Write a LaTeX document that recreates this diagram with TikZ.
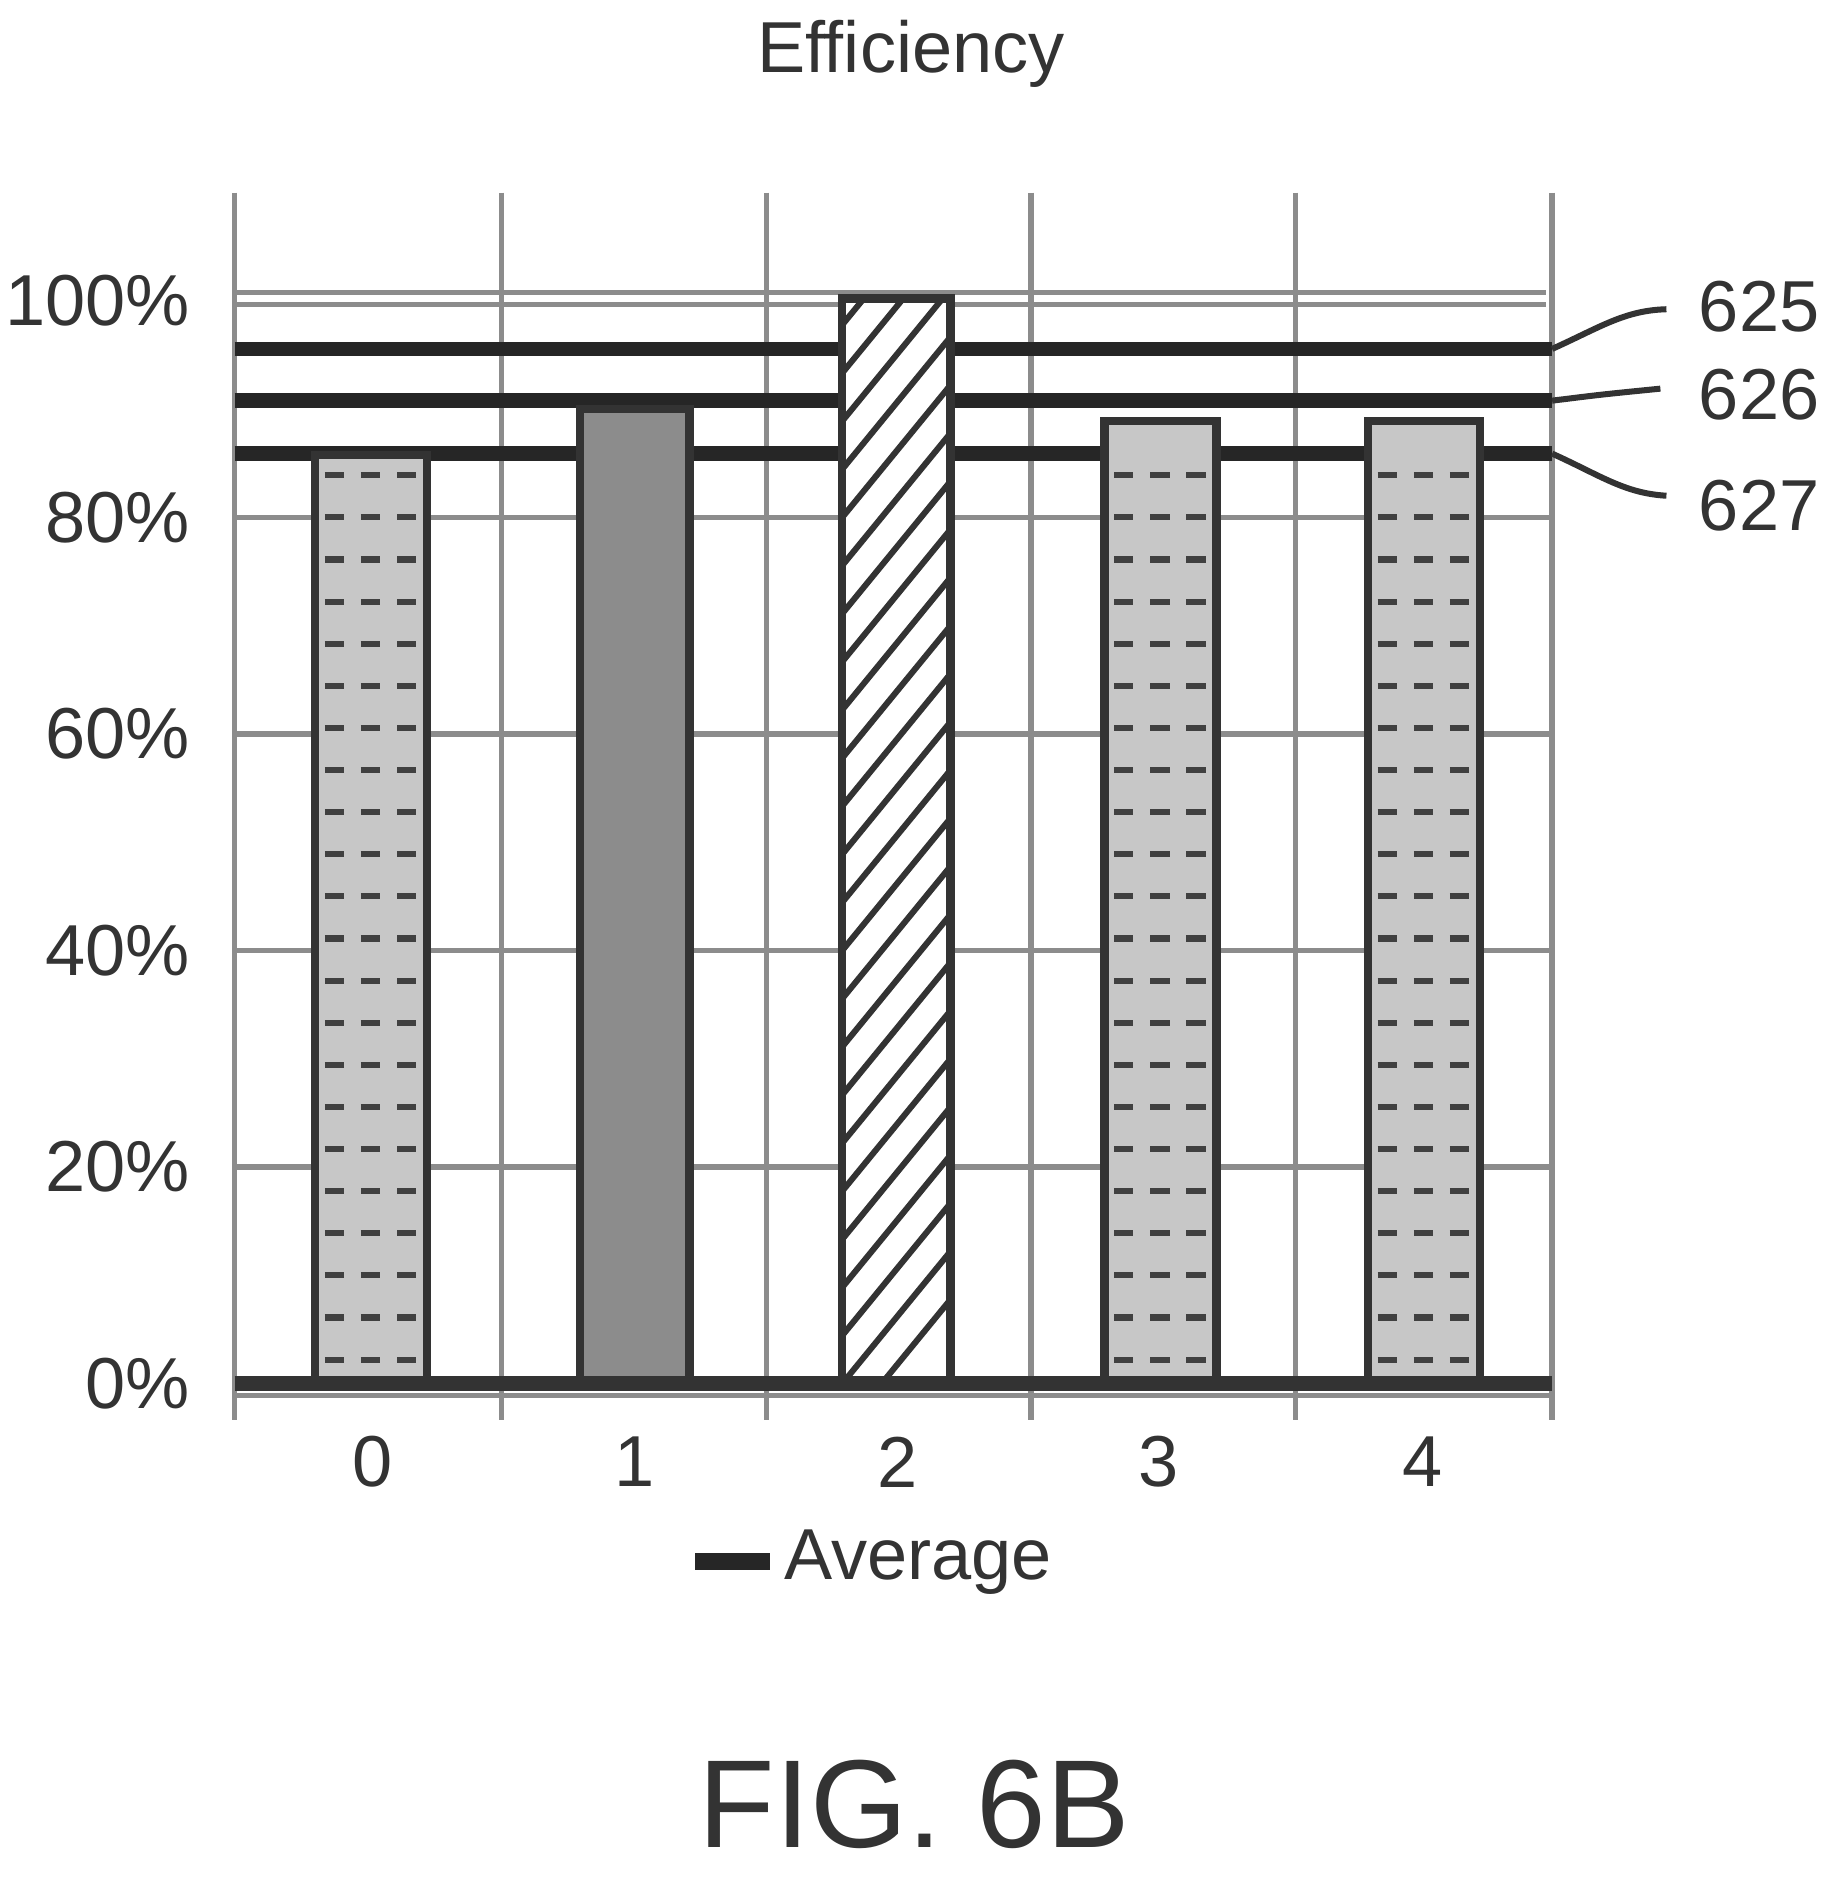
\documentclass[tikz,border=0pt]{standalone}
\usepackage{fontspec}
\setmainfont{Liberation Sans}
\usetikzlibrary{patterns}
\begin{document}
\begin{tikzpicture}[x=0.5pt,y=-0.5pt,
  grid/.style={draw=black!45,line width=2.2},
  avg/.style={draw=black!85,line width=6},
  barbox/.style={draw=black!80,line width=3.5},
  lbl/.style={font=\fontsize{30}{32}\selectfont,text=black!80},
  lead/.style={draw=black!80,line width=2.5}]
\useasboundingbox (0,0) rectangle (1525,1570);
% grid
\foreach \x in {195,417,637,857,1077,1290} \draw[grid] (\x,160) -- (\x,1180);
\foreach \y in {970,790,610,430} \draw[grid] (195,\y) -- (1290,\y);
\draw[grid] (195,243) -- (1285,243);
\draw[grid] (195,253) -- (1285,253);
\draw[grid] (195,1160) -- (1290,1160);
% averages
\draw[avg] (195,290) -- (1290,290) coordinate (e5);
\draw[avg] (195,333) -- (1290,333) coordinate (e6);
\draw[avg] (195,377) -- (1290,377) coordinate (e7);
% bars
\foreach \a/\t in {262/378,918/350,1137/350}{
  \fill[black!22] (\a,\t) rectangle ++(93,1150-\t);
  \foreach \yy in {395,430,...,1140} \foreach \xx in {0,30,60}
    \draw[black!75,line width=2.5] (\a+\xx+8,\yy) -- ++(16,0);
  \draw[barbox] (\a,\t) rectangle ++(93,1150-\t);
}
\fill[black!45] (482,340) rectangle (573,1150);
\draw[barbox] (482,340) rectangle (573,1150);
\fill[white] (700,248) rectangle (790,1150);
\begin{scope}
\clip (700,248) rectangle (790,1150);
\foreach \k in {0,40,...,1040} \draw[black!80,line width=2.5] (700,1150-\k+40) -- (790,1150-\k-70);
\end{scope}
\draw[barbox] (700,248) rectangle (790,1150);
\draw[line width=6,black!80] (195,1150) -- (1290,1150);
% y labels
\foreach \y/\t in {1150/0,970/20,790/40,610/60,430/80,250/100}
  \node[lbl,anchor=east] (y\t) at (165,\y) {\t\%};
\foreach \i/\x in {0/310,1/527,2/746,3/963,4/1182}
  \node[lbl] (x\i) at (\x,1215) {\i};
\node[lbl] (ttl) at (757,45) {Efficiency};
\node[lbl,anchor=west] (leg) at (645,1298) {Average};
\draw[line width=7,black!85] (578,1298) -- (640,1298);
\node[font=\fontsize{52}{54}\selectfont,text=black!80] (fig) at (760,1500) {FIG. 6B};
% reference numerals
\node[lbl,anchor=west] (n5) at (1405,255) {625};
\node[lbl,anchor=west] (n6) at (1405,328) {626};
\node[lbl,anchor=west] (n7) at (1405,420) {627};
\draw[lead] (e5) .. controls (1330,272) and (1350,258) .. (1385,257);
\draw[lead] (e6) .. controls (1330,328) .. (1380,323);
\draw[lead] (e7) .. controls (1330,395) and (1350,410) .. (1385,412);
\end{tikzpicture}
\end{document}
